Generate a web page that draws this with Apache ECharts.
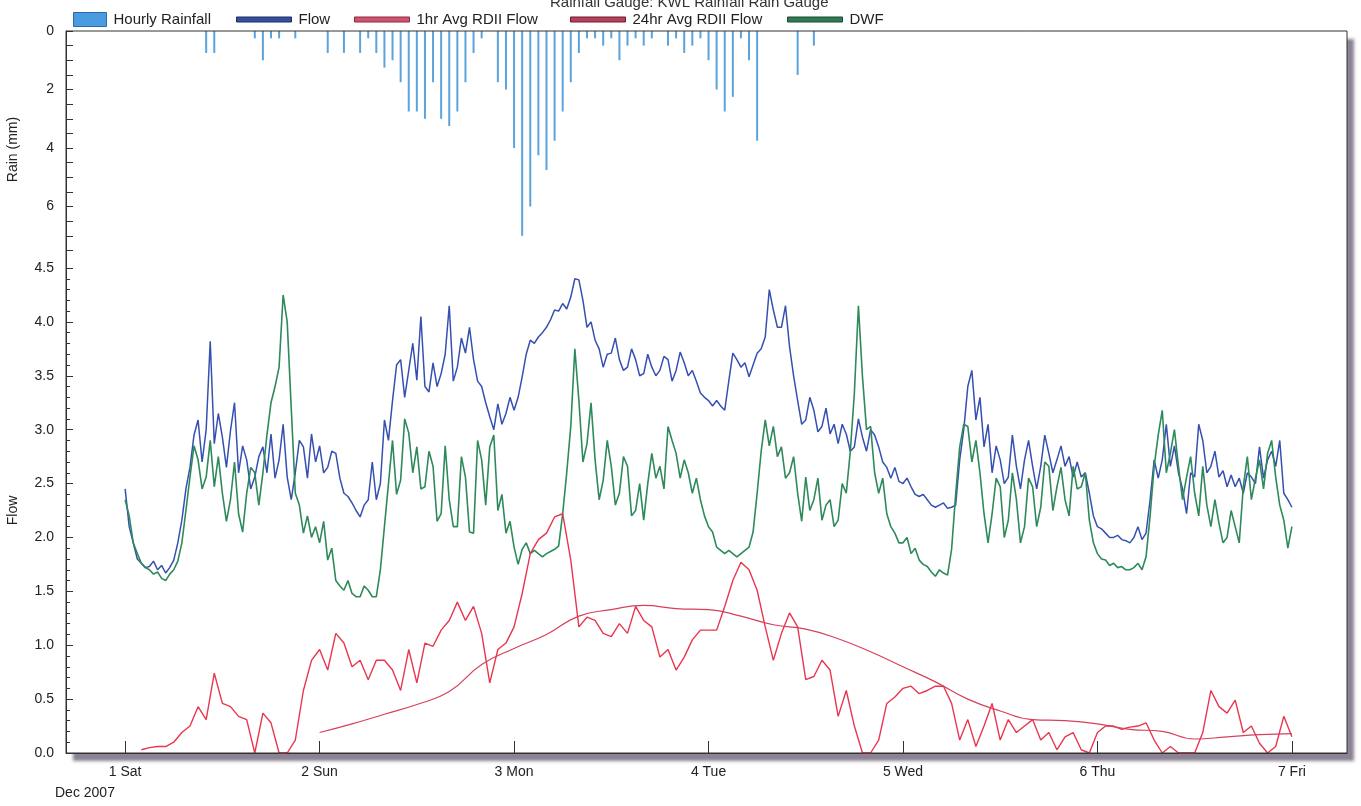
<!DOCTYPE html>
<html>
<head>
<meta charset="utf-8">
<script src="https://cdn.jsdelivr.net/npm/echarts@6/dist/echarts.min.js"></script>
<style>
  html, body { margin: 0; padding: 0; background: #fff; }
  #chart { width: 1361px; height: 806px; }
</style>
</head>
<body>
<div id="chart"></div>
<script>
// x values are hours since 1 Dec 2007 00:00
const dayLabels = ['1 Sat', '2 Sun', '3 Mon', '4 Tue', '5 Wed', '6 Thu', '7 Fri']
const dayTicks = [0, 24, 48, 72, 96, 120, 144]

const rainHours = [10, 11, 16, 17, 18, 19, 21, 25, 27, 29, 30, 31, 32, 33, 34, 35, 36, 37, 38, 39, 40, 41, 42, 43, 44,
  46, 47, 48, 49, 50, 51, 52, 53, 54, 55, 56, 57, 58, 59, 60, 61, 62, 63, 64, 65, 67, 68, 69, 70, 71,
  72, 73, 74, 75, 76, 77, 78, 83, 85]
const rainMm = [0.75, 0.75, 0.25, 1.0, 0.25, 0.25, 0.25, 0.75, 0.75, 0.75, 0.25, 0.75, 1.25, 1.0, 1.75, 2.75, 2.75, 3.0, 1.75, 3.0, 3.25, 2.75, 1.75, 0.75, 0.25,
  1.75, 2.0, 4.0, 7.0, 6.0, 4.25, 4.75, 3.75, 2.75, 1.75, 0.75, 0.25, 0.25, 0.5, 0.25, 1.0, 0.5, 0.25, 0.5, 0.25, 0.5, 0.25, 0.75, 0.5, 0.25,
  1.0, 2.0, 2.75, 2.25, 0.25, 1.0, 3.75, 1.5, 0.5]

// half-hourly values, 0 .. 144 h (one row per day)
const flow = [
  2.45, 2.10, 1.95, 1.80, 1.76, 1.72, 1.73, 1.78, 1.70, 1.74, 1.67, 1.72, 1.79, 1.95, 2.16, 2.45, 2.65, 2.95, 3.09, 2.70, 3.00, 3.82, 2.87, 3.15, 2.93, 2.65, 2.99, 3.25, 2.60, 2.85, 2.72, 2.45, 2.56, 2.75, 2.84, 2.60, 2.96, 2.55, 2.72, 3.05, 2.56, 2.35, 2.60, 2.90, 2.84, 2.55, 2.96, 2.70,
  2.85, 2.60, 2.65, 2.80, 2.78, 2.55, 2.41, 2.38, 2.32, 2.25, 2.19, 2.30, 2.35, 2.70, 2.35, 2.50, 3.09, 2.90, 3.27, 3.60, 3.65, 3.30, 3.55, 3.80, 3.46, 4.05, 3.40, 3.35, 3.62, 3.40, 3.52, 3.70, 4.15, 3.45, 3.58, 3.85, 3.71, 3.95, 3.65, 3.45, 3.40, 3.25, 3.12, 3.00, 3.24, 3.05, 3.15, 3.30,
  3.18, 3.30, 3.49, 3.70, 3.83, 3.80, 3.86, 3.90, 3.95, 4.02, 4.11, 4.10, 4.17, 4.12, 4.23, 4.40, 4.39, 4.20, 3.95, 4.00, 3.83, 3.75, 3.58, 3.70, 3.71, 3.85, 3.65, 3.55, 3.58, 3.75, 3.65, 3.50, 3.52, 3.70, 3.58, 3.50, 3.55, 3.68, 3.65, 3.45, 3.55, 3.72, 3.62, 3.50, 3.55, 3.45, 3.34, 3.30,
  3.27, 3.22, 3.27, 3.22, 3.18, 3.45, 3.71, 3.65, 3.58, 3.62, 3.49, 3.60, 3.71, 3.75, 3.86, 4.30, 4.11, 3.95, 3.95, 4.15, 3.77, 3.50, 3.27, 3.05, 3.09, 3.30, 3.18, 2.98, 3.03, 3.20, 2.96, 3.05, 2.87, 3.05, 2.96, 2.80, 2.84, 3.10, 2.93, 2.80, 3.00, 2.95, 2.84, 2.70, 2.65, 2.55, 2.65, 2.52,
  2.50, 2.55, 2.47, 2.40, 2.38, 2.40, 2.35, 2.30, 2.28, 2.30, 2.32, 2.27, 2.28, 2.30, 2.72, 3.00, 3.40, 3.55, 3.09, 3.30, 2.84, 3.05, 2.60, 2.85, 2.72, 2.50, 2.56, 2.95, 2.66, 2.45, 2.72, 2.90, 2.66, 2.45, 2.66, 2.95, 2.78, 2.60, 2.72, 2.85, 2.66, 2.75, 2.56, 2.70, 2.56, 2.60, 2.41, 2.20,
  2.10, 2.08, 2.04, 2.00, 2.00, 2.02, 1.98, 1.97, 1.95, 2.00, 2.10, 1.98, 2.04, 2.35, 2.72, 2.55, 2.72, 3.05, 2.66, 2.85, 2.60, 2.45, 2.22, 2.60, 2.56, 3.05, 2.90, 2.60, 2.66, 2.80, 2.56, 2.62, 2.47, 2.58, 2.47, 2.55, 2.41, 2.60, 2.56, 2.50, 2.84, 2.55, 2.72, 2.80, 2.66, 2.90, 2.41, 2.35,
  2.28
]
const dwf = [
  2.35, 2.20, 1.95, 1.85, 1.76, 1.72, 1.70, 1.66, 1.68, 1.62, 1.60, 1.66, 1.70, 1.78, 1.95, 2.25, 2.56, 2.85, 2.72, 2.45, 2.56, 2.90, 2.47, 2.75, 2.41, 2.15, 2.35, 2.70, 2.22, 2.05, 2.41, 2.65, 2.60, 2.30, 2.60, 2.95, 3.25, 3.40, 3.58, 4.25, 4.00, 3.20, 2.41, 2.30, 2.04, 2.20, 2.00, 2.10,
  1.95, 2.15, 1.79, 1.90, 1.60, 1.55, 1.51, 1.60, 1.48, 1.45, 1.45, 1.55, 1.51, 1.45, 1.45, 1.70, 2.10, 2.50, 2.90, 2.40, 2.53, 3.10, 2.97, 2.60, 2.84, 2.45, 2.47, 2.80, 2.66, 2.15, 2.22, 2.85, 2.35, 2.10, 2.10, 2.75, 2.56, 2.05, 2.04, 2.90, 2.72, 2.30, 2.84, 2.95, 2.25, 2.40, 2.04, 2.15,
  1.91, 1.75, 1.89, 1.95, 1.85, 1.88, 1.85, 1.82, 1.85, 1.87, 1.89, 1.92, 2.22, 2.60, 3.03, 3.75, 3.27, 2.70, 2.87, 3.25, 2.72, 2.35, 2.53, 2.90, 2.66, 2.30, 2.41, 2.75, 2.66, 2.20, 2.25, 2.50, 2.16, 2.50, 2.78, 2.55, 2.66, 2.45, 3.03, 2.90, 2.78, 2.55, 2.72, 2.60, 2.41, 2.55, 2.35, 2.20,
  2.10, 2.05, 1.91, 1.88, 1.85, 1.88, 1.85, 1.82, 1.85, 1.88, 1.91, 2.05, 2.41, 2.80, 3.09, 2.85, 3.03, 2.75, 2.84, 2.55, 2.60, 2.75, 2.41, 2.15, 2.56, 2.25, 2.35, 2.55, 2.16, 2.30, 2.35, 2.10, 2.16, 2.50, 2.41, 2.80, 3.34, 4.15, 3.49, 3.00, 3.03, 2.60, 2.41, 2.55, 2.22, 2.10, 2.04, 1.95,
  1.95, 2.00, 1.85, 1.90, 1.79, 1.75, 1.73, 1.68, 1.64, 1.70, 1.67, 1.65, 1.89, 2.40, 2.84, 3.05, 3.03, 2.70, 2.90, 2.60, 2.22, 1.95, 2.22, 2.55, 2.47, 2.00, 2.16, 2.60, 2.35, 1.95, 2.10, 2.55, 2.47, 2.10, 2.28, 2.70, 2.66, 2.25, 2.47, 2.65, 2.35, 2.20, 2.66, 2.45, 2.47, 2.60, 2.16, 1.95,
  1.85, 1.80, 1.79, 1.74, 1.76, 1.72, 1.73, 1.70, 1.70, 1.72, 1.76, 1.70, 1.82, 2.20, 2.66, 2.95, 3.18, 2.60, 2.78, 3.00, 2.66, 2.35, 2.56, 2.75, 2.41, 2.20, 2.66, 2.30, 2.10, 2.35, 2.13, 1.95, 2.00, 2.25, 2.10, 1.95, 2.47, 2.75, 2.35, 2.55, 2.72, 2.45, 2.78, 2.90, 2.56, 2.30, 2.16, 1.90,
  2.10
]
// hourly values, 0 .. 144 h
const rdii1hr = [
  null, null, 0.03, 0.05, 0.06, 0.06, 0.10, 0.19, 0.25, 0.43, 0.31, 0.74, 0.46, 0.43, 0.34, 0.31, 0.00, 0.37, 0.28, 0.00, 0.00, 0.12, 0.58, 0.86,
  0.96, 0.77, 1.11, 1.02, 0.80, 0.86, 0.68, 0.86, 0.86, 0.77, 0.58, 0.96, 0.65, 1.02, 0.99, 1.14, 1.23, 1.40, 1.23, 1.36, 1.11, 0.65, 0.96, 1.02,
  1.17, 1.48, 1.85, 1.98, 2.04, 2.19, 2.22, 1.79, 1.17, 1.26, 1.23, 1.11, 1.08, 1.20, 1.11, 1.36, 1.23, 1.17, 0.89, 0.96, 0.77, 0.89, 1.05, 1.14,
  1.14, 1.14, 1.36, 1.60, 1.77, 1.70, 1.51, 1.17, 0.86, 1.11, 1.30, 1.17, 0.68, 0.71, 0.86, 0.77, 0.34, 0.58, 0.25, 0.00, 0.00, 0.12, 0.46, 0.52,
  0.60, 0.62, 0.55, 0.58, 0.62, 0.62, 0.46, 0.12, 0.31, 0.06, 0.25, 0.46, 0.12, 0.31, 0.19, 0.25, 0.31, 0.12, 0.19, 0.03, 0.15, 0.19, 0.03, 0.00,
  0.19, 0.25, 0.25, 0.22, 0.24, 0.25, 0.28, 0.12, 0.00, 0.06, 0.00, 0.00, 0.00, 0.19, 0.58, 0.43, 0.37, 0.49, 0.19, 0.25, 0.09, 0.00, 0.06, 0.34,
  0.15
]
const avgHours = [24, 28, 32, 36, 40, 44, 48, 52, 56, 60, 64, 68, 72, 76, 80, 84, 88, 92, 96, 100, 104, 108, 112, 116, 120, 124, 128, 132, 136, 140, 144]
const rdii24hr = [0.19, 0.27, 0.36, 0.45, 0.57, 0.82, 0.97, 1.10, 1.27, 1.33, 1.37, 1.34, 1.33, 1.27, 1.19, 1.15, 1.06, 0.94, 0.80, 0.66, 0.50, 0.39, 0.31, 0.30, 0.27, 0.22, 0.20, 0.13, 0.15, 0.17, 0.18]

const rainTicks = [0, 0.5, 1, 1.5, 2, 2.5, 3, 3.5, 4, 4.5, 5, 5.5, 6, 6.5, 7, 7.5]
const rainLabels = [0, 2, 4, 6]

const FONT = 'Liberation Sans'
const X_MIN = -7.3
const X_MAX = 150.8

const chart = echarts.init(document.getElementById('chart'))

const xBase = {
  type: 'value',
  min: X_MIN,
  max: X_MAX,
  splitLine: { show: false },
}

const halfHourly = (arr) => arr.map((v, i) => [i * 0.5, v])
const hourly = (arr) => arr.map((v, i) => [i, v])

const legendText = { fontSize: 15, color: '#222', fontFamily: FONT, padding: [0, 0, 0, 2] }
function lineLegend(left, name, color, border) {
  return {
    left, top: 7,
    itemWidth: 55, itemHeight: 5,
    textStyle: legendText,
    data: [{ name, icon: 'rect', itemStyle: { color, borderColor: border, borderWidth: 1 } }],
  }
}

chart.setOption({
  animation: false,
  backgroundColor: '#fff',
  textStyle: { fontFamily: FONT },
  title: {
    text: 'Rainfall Gauge: KWL Rainfall Rain Gauge',
    left: 545,
    top: -10,
    textStyle: { fontSize: 15, fontWeight: 'normal', color: '#333', fontFamily: FONT },
  },
  graphic: [
    {
      type: 'rect', z: -10, silent: true,
      shape: { x: 66, y: 31, width: 1281, height: 722 },
      style: { fill: '#fff', shadowColor: 'rgba(110,100,120,0.8)', shadowBlur: 3, shadowOffsetX: 7, shadowOffsetY: 8 },
    },
    {
      type: 'rect', z: 100, silent: true,
      shape: { x: 66, y: 31, width: 1281, height: 722 },
      style: { fill: null, stroke: '#333', lineWidth: 1 },
    },
    {
      type: 'text', left: 55, top: 786,
      style: { text: 'Dec 2007', font: '14px "Liberation Sans"', fill: '#222' },
    },
  ],
  legend: [
    {
      left: 68, top: 7,
      itemWidth: 33, itemHeight: 14,
      textStyle: legendText,
      data: [{ name: 'Hourly Rainfall', icon: 'rect', itemStyle: { color: '#4a9be0', borderColor: '#2a6ab0', borderWidth: 1 } }],
    },
    lineLegend(231, 'Flow', '#34509e', '#1c2c60'),
    lineLegend(349, '1hr Avg RDII Flow', '#d05472', '#8a2a40'),
    lineLegend(565, '24hr Avg RDII Flow', '#b8405c', '#6a1c30'),
    lineLegend(782, 'DWF', '#2f7a55', '#1a4a32'),
  ],
  grid: [
    { left: 66, right: 14, top: 31, height: 237, outerBoundsMode: 'none' },
    { left: 66, right: 14, top: 268, bottom: 53, outerBoundsMode: 'none' },
  ],
  xAxis: [
    Object.assign({}, xBase, {
      gridIndex: 0,
      axisLine: { show: false },
      axisTick: { show: false },
      axisLabel: { show: false },
    }),
    Object.assign({}, xBase, {
      gridIndex: 1,
      axisLine: { show: true, onZero: false, lineStyle: { color: '#333' } },
      axisTick: { show: true, inside: true, length: 12, customValues: dayTicks, lineStyle: { color: '#333' } },
      axisLabel: {
        customValues: dayTicks,
        margin: 12,
        fontSize: 14,
        color: '#222',
        fontFamily: FONT,
        formatter: (v) => dayLabels[dayTicks.indexOf(Math.round(v))] || '',
      },
    }),
  ],
  yAxis: [
    {
      type: 'value', gridIndex: 0, inverse: true,
      min: 0, max: 8.1,
      name: 'Rain (mm)', nameLocation: 'middle', nameGap: 46,
      nameTextStyle: { fontSize: 14, color: '#222', fontFamily: FONT },
      splitLine: { show: false },
      axisLine: { show: true, onZero: false, lineStyle: { color: '#333' } },
      axisTick: { show: true, inside: true, length: 7, customValues: rainTicks, lineStyle: { color: '#333' } },
      axisLabel: { customValues: rainLabels, fontSize: 14, color: '#222', margin: 12, fontFamily: FONT },
    },
    {
      type: 'value', gridIndex: 1,
      min: 0, max: 4.5, interval: 0.5,
      name: 'Flow', nameLocation: 'middle', nameGap: 46,
      nameTextStyle: { fontSize: 14, color: '#222', fontFamily: FONT },
      splitLine: { show: false },
      axisLine: { show: true, onZero: false, lineStyle: { color: '#333' } },
      axisTick: { show: true, inside: true, length: 7, lineStyle: { color: '#333' } },
      minorTick: { show: true, splitNumber: 5, length: 4, lineStyle: { color: '#333' } },
      axisLabel: { fontSize: 14, color: '#222', margin: 12, fontFamily: FONT, formatter: (v) => v.toFixed(1) },
    },
  ],
  series: [
    {
      name: 'Hourly Rainfall', type: 'bar',
      xAxisIndex: 0, yAxisIndex: 0,
      barWidth: 2,
      itemStyle: { color: '#5aa3dc' },
      data: rainHours.map((h, i) => [h, rainMm[i]]),
    },
    {
      name: 'Flow', type: 'line',
      xAxisIndex: 1, yAxisIndex: 1,
      showSymbol: false,
      lineStyle: { color: '#3550b0', width: 1.5 },
      itemStyle: { color: '#34509e' },
      data: halfHourly(flow),
    },
    {
      name: 'DWF', type: 'line',
      xAxisIndex: 1, yAxisIndex: 1,
      showSymbol: false,
      lineStyle: { color: '#2e8a5a', width: 1.6 },
      itemStyle: { color: '#2f7a55' },
      data: halfHourly(dwf),
    },
    {
      name: '1hr Avg RDII Flow', type: 'line',
      xAxisIndex: 1, yAxisIndex: 1,
      showSymbol: false,
      lineStyle: { color: '#e8364f', width: 1.4 },
      itemStyle: { color: '#d05472' },
      data: hourly(rdii1hr),
    },
    {
      name: '24hr Avg RDII Flow', type: 'line',
      xAxisIndex: 1, yAxisIndex: 1,
      showSymbol: false, smooth: true,
      lineStyle: { color: '#d8405a', width: 1.2 },
      itemStyle: { color: '#b8405c' },
      data: avgHours.map((h, i) => [h, rdii24hr[i]]),
    },
  ],
})
</script>
</body>
</html>
